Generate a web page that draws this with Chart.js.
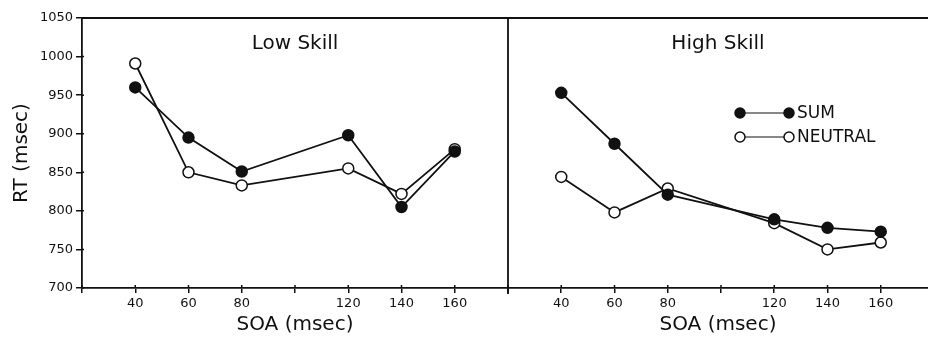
<!DOCTYPE html>
<html>
<head>
<meta charset="utf-8">
<script src="https://cdn.jsdelivr.net/npm/chart.js@4/dist/chart.umd.min.js"></script>
<style>
  body { margin: 0; background: #fff; }
  #wrap { position: relative; width: 928px; height: 337px; overflow: hidden; }
  canvas { position: absolute; top: 0; }
</style>
</head>
<body>
<div id="wrap">
  <canvas id="left" width="510" height="337" style="left:0"></canvas>
  <canvas id="right" width="420" height="337" style="left:508px"></canvas>
</div>
<script>
// SOA values (msec) and RT means
const soa = [40, 60, 80, 120, 140, 160];
const lowSum = [960, 895, 851, 898, 805, 877];
const lowNeutral = [991, 850, 833, 855, 822, 880];
const highSum = [953, 887, 821, 789, 778, 773];
const highNeutral = [844, 798, 829, 784, 750, 759];

const xTickLabels = [40, 60, 80, 120, 140, 160];
const xTickMarks = [20, 40, 60, 80, 100, 120, 140, 160, 180];
const yTicks = [700, 750, 800, 850, 900, 950, 1000, 1050];

const ink = "#111";
const font = "'DejaVu Sans', sans-serif";
Chart.defaults.font.family = font;
Chart.defaults.color = ink;

const pts = vals => soa.map((x, i) => ({ x: x, y: vals[i] }));

function sets(sum, neutral) {
  return [
    { label: "SUM", data: pts(sum), borderColor: ink, backgroundColor: ink,
      pointBackgroundColor: ink, pointBorderColor: ink, borderWidth: 1.8,
      pointRadius: 5.5, pointBorderWidth: 1.5, tension: 0 },
    { label: "NEUTRAL", data: pts(neutral), borderColor: ink, backgroundColor: "#fff",
      pointBackgroundColor: "#fff", pointBorderColor: ink, borderWidth: 1.8,
      pointRadius: 5.5, pointBorderWidth: 1.5, tension: 0 }
  ];
}

// frame: top line, divider, short inner ticks, panel caption, legend
const frame = {
  id: "frame",
  afterDraw(chart, args, opts) {
    const { ctx, chartArea: a, scales } = chart;
    ctx.save();
    ctx.strokeStyle = ink;
    ctx.lineWidth = 1.8;
    ctx.beginPath();
    ctx.moveTo(a.left, a.top);
    ctx.lineTo(a.right, a.top);
    if (opts.divider) {
      ctx.moveTo(a.right, a.top);
      ctx.lineTo(a.right, a.bottom + 6);
    }
    ctx.stroke();
    // ticks cross the axes slightly
    ctx.lineWidth = 1.5;
    ctx.beginPath();
    scales.x.ticks.forEach(t => {
      const px = scales.x.getPixelForValue(t.value);
      ctx.moveTo(px, a.bottom);
      ctx.lineTo(px, a.bottom - 3);
    });
    if (opts.showY) {
      scales.y.ticks.forEach(t => {
        const py = scales.y.getPixelForValue(t.value);
        ctx.moveTo(a.left, py);
        ctx.lineTo(a.left + 2, py);
      });
    }
    ctx.stroke();
    ctx.fillStyle = ink;
    ctx.font = "20px " + font;
    ctx.textAlign = "center";
    ctx.textBaseline = "middle";
    ctx.fillText(opts.caption, (a.left + a.right) / 2, 44);
    if (opts.legend) {
      ctx.font = "17px " + font;
      ctx.textAlign = "left";
      const rows = [["SUM", ink, 113], ["NEUTRAL", "#fff", 137]];
      rows.forEach(([txt, fill, y]) => {
        ctx.beginPath();
        ctx.moveTo(232, y);
        ctx.lineTo(281, y);
        ctx.lineWidth = 1;
        ctx.stroke();
        [232, 281].forEach(x => {
          ctx.beginPath();
          ctx.arc(x, y, 5, 0, Math.PI * 2);
          ctx.fillStyle = fill;
          ctx.fill();
          ctx.lineWidth = 1.5;
          ctx.stroke();
        });
        ctx.fillStyle = ink;
        ctx.fillText(txt, 289, y + 1);
      });
    }
    ctx.restore();
  }
};

function makeChart(id, sum, neutral, opts) {
  return new Chart(document.getElementById(id), {
    type: "line",
    data: { datasets: sets(sum, neutral) },
    plugins: [frame],
    options: {
      responsive: false,
      animation: false,
      layout: { autoPadding: false, padding: { top: 18, right: opts.padRight, left: 0, bottom: 0 } },
      plugins: {
        legend: { display: false },
        tooltip: { enabled: false },
        frame: opts
      },
      scales: {
        x: {
          type: "linear",
          min: 20,
          max: opts.xMax,
          afterBuildTicks: s => { s.ticks = xTickMarks.filter(v => v <= opts.xMax).map(v => ({ value: v })); },
          afterFit: s => { s.height = 49; s.paddingLeft = 0; s.paddingRight = 0; },
          ticks: {
            font: { size: 13 },
            padding: 3,
            maxRotation: 0,
            autoSkip: false,
            callback: v => xTickLabels.includes(v) ? String(v) : ""
          },
          grid: { drawOnChartArea: false, drawTicks: true, tickLength: 5, color: ink, lineWidth: 1.5 },
          border: { display: true, color: ink, width: 1.8 },
          title: { display: true, text: "SOA (msec)", font: { size: 20 }, padding: { top: 0, bottom: 0 } }
        },
        y: {
          display: opts.showY,
          min: 700,
          max: 1050,
          afterBuildTicks: s => { s.ticks = yTicks.map(v => ({ value: v })); },
          afterFit: s => { s.width = opts.showY ? 82 : 0; },
          ticks: { font: { size: 13 }, padding: 3, callback: v => String(v) },
          grid: { drawOnChartArea: false, drawTicks: true, tickLength: 6, color: ink, lineWidth: 1.5 },
          border: { display: true, color: ink, width: 1.8 },
          title: { display: true, text: "RT (msec)", font: { size: 20 }, padding: { top: 10, bottom: 0 } }
        }
      }
    }
  });
}

makeChart("left", lowSum, lowNeutral,
  { caption: "Low Skill", divider: true, legend: false, showY: true, xMax: 180, padRight: 2 });
makeChart("right", highSum, highNeutral,
  { caption: "High Skill", divider: false, legend: true, showY: false, xMax: 177.75, padRight: 0 });
</script>
</body>
</html>
